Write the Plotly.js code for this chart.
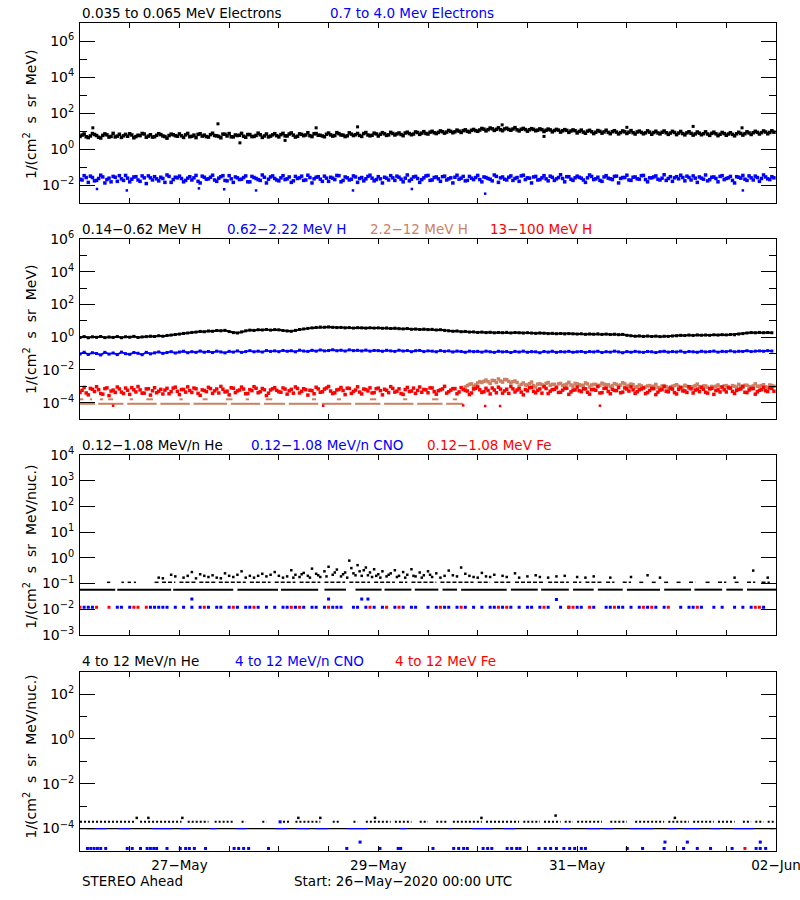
<!DOCTYPE html>
<html><head><meta charset="utf-8">
<script src="https://cdn.plot.ly/plotly-3.0.1.min.js"></script>
<style>html,body{margin:0;padding:0;background:#fff}#chart{width:800px;height:900px}</style>
</head><body><div id="chart"></div><script>
// ---------------- DATA (samples from 26-May-2020 00:00 UTC; "a" arrays on the hour, "b" arrays on the half hour) ----------------
const tickLabels = ['27-May','29-May','31-May','02-Jun'];
const tickLabelHours = [24,72,120,168];

// Panel 1: electrons
const e1a = [5.0,6.8,4.3,7.2,5.6,4.1,6.9,4.6,7.4,5.2,4.4,6.5,7.0,4.2,5.8,7.3,4.5,6.2,4.8,7.1,5.3,4.0,6.7,5.5,
6.9,4.4,7.3,5.1,4.3,7.0,5.9,4.6,7.5,5.4,4.2,6.6,7.2,4.7,5.6,7.4,4.5,6.3,5.0,7.6,4.4,6.8,5.2,7.1,
4.7,7.4,5.3,7.8,4.6,6.9,5.5,8.0,4.9,7.2,5.8,4.8,7.7,5.2,8.1,6.0,4.9,7.9,5.6,7.3,5.0,8.2,5.4,7.6,
5.3,8.1,5.7,8.4,6.0,7.8,5.5,8.6,6.2,8.9,6.5,9.2,6.8,9.6,7.2,10.1,7.6,10.7,8.0,11.2,8.3,11.6,8.8,12.2,
9.6,13.8,10.2,14.6,10.8,15.0,10.4,14.2,11.0,15.4,10.1,14.0,9.8,13.5,10.3,13.1,9.4,12.8,9.0,12.3,8.7,11.9,8.4,11.5,
7.8,11.2,7.5,10.9,7.2,10.6,7.6,11.0,7.1,10.4,6.9,10.1,7.3,10.5,6.8,9.9,7.0,10.2,6.6,9.7,6.9,10.0,6.5,9.6,
6.3,9.4,6.1,9.1,5.9,8.8,6.2,9.0,5.7,8.6,5.5,8.3,5.8,8.0,5.4,8.5,5.9,9.0,6.4,9.6,6.8,10.1,7.0,10.3];
const e1b = [5.9,4.8,5.3,6.4,4.5,5.7,6.1,5.0,4.7,6.6,5.4,5.1,6.0,4.9,5.5,6.8,5.2,4.6,5.8,6.3,4.9,5.6,6.2,5.1,
5.4,6.1,4.8,5.9,6.5,5.2,4.9,6.3,5.6,5.0,6.7,5.3,4.8,6.0,5.8,5.1,6.4,4.9,5.7,6.2,5.3,4.7,6.1,5.5,
6.3,5.4,6.8,5.9,5.1,6.5,6.0,5.5,7.0,5.8,5.3,6.6,6.1,5.6,7.1,5.9,5.4,6.7,6.2,5.7,7.2,6.0,5.8,6.9,
6.6,7.0,6.1,7.3,6.9,6.4,7.7,7.2,6.8,8.2,7.6,7.3,8.6,8.0,8.4,9.1,8.7,9.5,9.0,9.8,10.4,9.6,10.9,10.5,
11.4,12.6,11.9,13.2,12.4,11.8,13.0,12.2,12.9,11.6,12.5,12.0,11.7,12.3,11.2,11.9,11.0,11.5,10.6,11.2,10.3,10.8,10.0,10.4,
9.4,8.7,9.8,9.1,8.5,9.5,8.9,8.4,9.2,8.7,8.2,9.0,8.6,8.1,8.8,8.4,7.9,8.6,8.2,7.8,8.5,8.0,7.7,8.3,
7.7,7.2,7.9,7.4,6.9,7.6,7.1,6.8,7.4,7.0,6.6,7.2,6.8,6.5,7.0,7.3,7.1,7.8,8.0,8.4,8.1,8.8,8.3,8.6];
const e1Outliers = [[3.1,15],[33.3,25],[38.6,2.2],[49.5,3],[57,15],[67,17],[101.9,22],[112,5],[132,16],[148,18],[159.8,15]];
const e2a = [.021,.033,.014,.026,.018,.035,.013,.024,.030,.016,.022,.034,.015,.028,.019,.032,.012,.025,.029,.017,.023,.036,.014,.027,
.031,.015,.024,.019,.034,.013,.027,.022,.035,.016,.029,.018,.033,.014,.025,.021,.032,.015,.026,.020,.036,.013,.028,.023,
.017,.033,.022,.014,.030,.025,.018,.035,.013,.027,.021,.031,.016,.024,.034,.015,.028,.019,.032,.014,.026,.022,.035,.017,
.029,.013,.024,.033,.018,.027,.015,.036,.021,.030,.014,.025,.034,.019,.028,.016,.031,.022,.013,.035,.024,.017,.030,.020,
.034,.015,.026,.021,.036,.014,.028,.019,.032,.023,.016,.035,.025,.013,.030,.020,.033,.017,.027,.022,.037,.015,.029,.018,
.031,.024,.014,.036,.020,.027,.016,.033,.022,.030,.013,.026,.035,.018,.028,.021,.034,.015,.025,.032,.019,.037,.023,.016,
.029,.035,.017,.026,.032,.014,.024,.036,.020,.028,.015,.033,.023,.030,.013,.027,.034,.018,.025,.031,.016,.036,.022,.029];
const e2b = [.019,.026,.031,.017,.023,.028,.020,.015,.027,.033,.018,.024,.021,.029,.016,.025,.032,.019,.022,.027,.014,.030,.020,.025,
.023,.018,.029,.025,.016,.031,.021,.027,.019,.024,.033,.017,.022,.028,.020,.026,.015,.030,.023,.018,.027,.021,.032,.019,
.025,.020,.028,.017,.023,.031,.019,.026,.022,.029,.016,.024,.027,.020,.033,.018,.025,.021,.028,.023,.017,.030,.024,.020,
.022,.027,.019,.025,.031,.021,.024,.017,.028,.023,.020,.032,.018,.026,.022,.029,.019,.025,.027,.021,.030,.018,.024,.026,
.020,.028,.023,.017,.030,.025,.021,.027,.018,.026,.032,.020,.024,.028,.019,.025,.022,.031,.018,.026,.023,.029,.021,.025,
.027,.019,.025,.030,.022,.018,.028,.024,.020,.031,.023,.026,.019,.027,.022,.033,.020,.025,.028,.021,.024,.018,.029,.025,
.022,.026,.031,.019,.024,.028,.021,.017,.027,.023,.030,.020,.025,.018,.029,.024,.021,.032,.019,.026,.023,.028,.020,.025];
const e2Outliers = [[4.1,.006],[11.3,.005],[28.7,.0065],[34.8,.0058],[42.5,.005],[65.9,.005],[80.1,.006],[97.8,.0033],[160,.005]];

// Panel 2: protons
const h1 = [0.95,1.08,0.92,1.05,0.98,1.10,0.94,1.03,0.97,1.09,0.93,1.06,1.00,1.12,0.96,1.04,1.08,1.15,1.10,1.22,1.14,1.28,1.35,1.45,
1.55,1.70,1.80,1.95,2.05,2.25,2.15,2.40,2.30,2.55,2.45,2.60,2.20,1.90,1.80,2.10,2.45,2.70,2.60,2.85,2.75,2.95,2.70,2.90,
2.80,2.55,2.40,2.30,2.60,2.95,3.20,3.45,3.70,3.95,4.15,4.05,4.25,4.00,3.85,3.95,3.70,3.85,3.60,3.80,3.70,3.55,3.75,3.60,
3.70,3.50,3.65,3.40,3.55,3.30,3.20,3.35,3.05,3.15,2.95,3.10,2.90,3.00,2.75,2.85,2.60,2.45,2.30,2.40,2.15,2.25,2.05,2.10,
1.95,2.05,1.90,2.00,1.85,1.95,1.88,1.98,1.82,1.92,1.86,1.78,1.88,1.80,1.72,1.82,1.75,1.65,1.72,1.62,1.68,1.58,1.65,1.60,
1.55,1.62,1.50,1.58,1.52,1.60,1.48,1.55,1.45,1.52,1.42,1.48,1.30,1.22,1.15,1.20,1.12,1.18,1.10,1.16,1.08,1.14,1.12,1.18,
1.22,1.30,1.26,1.35,1.28,1.38,1.32,1.36,1.30,1.40,1.34,1.42,1.38,1.45,1.40,1.55,1.65,1.80,1.90,1.85,1.95,1.88,1.92,1.86];
const h2 = [.095,.120,.088,.112,.100,.082,.118,.092,.108,.086,.122,.098,.090,.115,.104,.085,.119,.096,.110,.125,.102,.115,.130,.108,
.124,.138,.112,.130,.118,.142,.120,.134,.115,.140,.125,.110,.136,.122,.145,.118,.132,.150,.128,.140,.124,.152,.135,.146,
.130,.155,.138,.148,.128,.160,.142,.135,.158,.140,.165,.145,.152,.170,.148,.160,.142,.168,.150,.158,.144,.162,.140,.155,
.150,.138,.158,.145,.135,.160,.142,.152,.130,.148,.155,.132,.146,.140,.128,.150,.136,.145,.125,.142,.134,.120,.140,.130,
.136,.122,.140,.128,.118,.138,.126,.132,.115,.135,.124,.140,.120,.130,.128,.112,.134,.122,.138,.118,.130,.125,.136,.120,
.128,.134,.118,.132,.125,.138,.115,.130,.122,.140,.126,.112,.132,.120,.136,.124,.118,.134,.128,.115,.130,.138,.122,.132,
.125,.140,.118,.134,.128,.120,.138,.126,.132,.142,.122,.136,.130,.145,.128,.138,.134,.148,.132,.140,.145,.138,.150,.142];
// 2.2-12 MeV H: quantized levels until hour 93, then a continuous band (hours 93..167)
const h3LowSegs = [[0,3.6],[4.4,10.5],[11.4,18.5],[19.4,26.5],[27.4,35.5],[36.4,43.5],[44.4,49.5],[50.4,57.5],[58.4,65.5],[66.4,72.5],[73.4,80.5],[81.4,87.5],[88.4,92.5]];
const h3HighSegs = [[0,0.8],[2.4,2.9],[4.8,5.6],[6.8,8],[12,12.8],[16,17.6],[24,24.8],[29.6,30.8],[35.2,36.8],[40,40.8],[44.8,46.4],[56,57],[62,63],[70,71.5],[78,79],[85,86.5],[90,91]];
const h3LateA = [9e-4,1.3e-3,1.0e-3,1.6e-3,
1.7e-3,2.4e-3,1.5e-3,2.2e-3,2.8e-3,1.8e-3,2.5e-3,1.6e-3,2.1e-3,
1.0e-3,1.6e-3,1.2e-3,1.8e-3,0.9e-3,1.4e-3,1.1e-3,1.7e-3,1.3e-3,0.95e-3,1.5e-3,1.2e-3,1.75e-3,1.0e-3,1.4e-3,1.15e-3,1.6e-3,0.9e-3,1.3e-3,1.05e-3,1.55e-3,1.2e-3,0.95e-3,1.45e-3,1.1e-3,1.65e-3,1.0e-3,1.35e-3,
8.5e-4,1.2e-3,7.5e-4,1.05e-3,9.5e-4,1.3e-3,8e-4,1.1e-3,7e-4,1.0e-3,1.25e-3,8.5e-4,1.15e-3,7.5e-4,9.5e-4,1.35e-3,8e-4,1.05e-3,7e-4,9e-4,1.2e-3,8.5e-4,1.1e-3,7.5e-4,1.0e-3,1.3e-3,8.5e-4,1.15e-3,9e-4,1.4e-3,1.0e-3,1.25e-3,8.5e-4,1.1e-3];
const h3LateB = [1.1e-3,1.4e-3,1.2e-3,1.9e-3,
2.0e-3,1.9e-3,2.3e-3,1.7e-3,2.1e-3,2.6e-3,2.0e-3,1.9e-3,1.7e-3,
1.3e-3,1.2e-3,1.45e-3,1.1e-3,1.35e-3,1.25e-3,1.5e-3,1.15e-3,1.3e-3,1.4e-3,1.1e-3,1.35e-3,1.2e-3,1.5e-3,1.25e-3,1.1e-3,1.4e-3,1.2e-3,1.3e-3,1.15e-3,1.35e-3,1.25e-3,1.1e-3,1.3e-3,1.2e-3,1.4e-3,1.15e-3,1.25e-3,
9.5e-4,1.05e-3,9e-4,1.1e-3,1.0e-3,8.5e-4,1.05e-3,9.5e-4,9e-4,1.1e-3,1.0e-3,8.8e-4,1.0e-3,9.2e-4,1.1e-3,9.5e-4,1.05e-3,8.8e-4,9.8e-4,1.0e-3,9.2e-4,1.05e-3,9.5e-4,1.1e-3,8.8e-4,1.0e-3,1.15e-3,9.5e-4,1.05e-3,1.0e-3,1.1e-3,9.2e-4,1.2e-3,1.0e-3];
const h3LateStart = 93;
const h3LowLevel = 8.5e-5, h3HighLevel = 1.6e-4;
const h4a = [4.1e-4,8.5e-4,3.0e-4,6.6e-4,9.4e-4,3.6e-4,7.2e-4,2.7e-4,5.8e-4,9.0e-4,4.4e-4,7.8e-4,3.2e-4,6.1e-4,9.6e-4,3.8e-4,6.9e-4,2.9e-4,8.2e-4,5.0e-4,3.4e-4,7.5e-4,4.7e-4,8.8e-4,
3.1e-4,6.4e-4,9.2e-4,4.2e-4,7.0e-4,2.8e-4,5.5e-4,8.6e-4,3.7e-4,6.8e-4,9.8e-4,4.5e-4,3.0e-4,7.6e-4,5.2e-4,8.9e-4,3.5e-4,6.2e-4,9.4e-4,4.0e-4,7.3e-4,2.7e-4,5.9e-4,8.1e-4,
4.6e-4,7.9e-4,3.3e-4,6.5e-4,9.1e-4,3.9e-4,7.1e-4,2.9e-4,5.4e-4,8.7e-4,4.3e-4,6.7e-4,9.7e-4,3.6e-4,6.0e-4,8.4e-4,3.1e-4,7.4e-4,4.8e-4,9.3e-4,3.4e-4,6.3e-4,8.0e-4,4.1e-4,
7.7e-4,3.0e-4,5.7e-4,9.5e-4,4.4e-4,7.0e-4,3.2e-4,8.5e-4,5.1e-4,3.7e-4,9.0e-4,6.4e-4,4.0e-4,7.8e-4,3.3e-4,6.0e-4,9.9e-4,4.6e-4,7.2e-4,3.5e-4,8.3e-4,5.5e-4,3.1e-4,6.8e-4,
9.2e-4,4.2e-4,7.5e-4,3.4e-4,5.9e-4,8.8e-4,3.8e-4,6.6e-4,9.6e-4,4.5e-4,7.1e-4,3.0e-4,5.3e-4,8.6e-4,4.0e-4,6.9e-4,9.4e-4,3.6e-4,6.2e-4,8.1e-4,4.3e-4,7.4e-4,3.2e-4,5.8e-4,
8.9e-4,4.7e-4,7.0e-4,3.3e-4,6.5e-4,9.7e-4,4.1e-4,7.6e-4,3.5e-4,5.6e-4,8.4e-4,4.4e-4,6.8e-4,9.1e-4,3.7e-4,6.1e-4,8.0e-4,4.2e-4,7.3e-4,3.1e-4,5.9e-4,9.5e-4,4.6e-4,6.7e-4,
3.4e-4,8.2e-4,5.2e-4,9.3e-4,3.9e-4,6.6e-4,8.7e-4,4.3e-4,7.0e-4,3.2e-4,6.0e-4,9.0e-4,4.5e-4,7.7e-4,3.6e-4,6.4e-4,9.8e-4,4.1e-4,7.2e-4,3.3e-4,5.7e-4,8.5e-4,4.8e-4,7.4e-4];
const h4b = [5.6e-4,3.9e-4,7.4e-4,4.8e-4,6.2e-4,3.3e-4,8.0e-4,5.1e-4,4.2e-4,6.9e-4,3.6e-4,5.7e-4,8.3e-4,4.5e-4,6.0e-4,3.8e-4,7.1e-4,5.3e-4,4.0e-4,6.5e-4,5.8e-4,3.5e-4,7.7e-4,4.9e-4,
6.3e-4,4.4e-4,5.5e-4,7.8e-4,3.7e-4,6.0e-4,4.7e-4,7.2e-4,5.2e-4,3.9e-4,6.6e-4,5.0e-4,8.1e-4,4.1e-4,5.9e-4,6.8e-4,3.6e-4,5.4e-4,7.5e-4,4.6e-4,6.1e-4,3.8e-4,7.0e-4,5.6e-4,
4.3e-4,6.7e-4,5.3e-4,3.8e-4,7.3e-4,4.9e-4,6.2e-4,5.7e-4,3.5e-4,6.9e-4,4.6e-4,7.9e-4,5.1e-4,4.0e-4,6.4e-4,5.5e-4,7.6e-4,3.7e-4,5.9e-4,4.4e-4,6.8e-4,5.2e-4,3.9e-4,7.1e-4,
5.4e-4,6.6e-4,4.1e-4,7.4e-4,5.0e-4,3.6e-4,6.3e-4,4.8e-4,7.7e-4,5.6e-4,4.3e-4,6.1e-4,8.0e-4,4.7e-4,5.3e-4,6.9e-4,3.8e-4,5.8e-4,7.2e-4,4.5e-4,6.4e-4,5.1e-4,3.9e-4,7.5e-4,
6.1e-4,4.6e-4,5.5e-4,7.8e-4,4.0e-4,6.7e-4,5.2e-4,3.7e-4,7.0e-4,5.9e-4,4.4e-4,6.3e-4,8.2e-4,4.9e-4,5.6e-4,3.8e-4,7.3e-4,5.0e-4,6.5e-4,4.2e-4,5.8e-4,7.6e-4,4.5e-4,6.0e-4,
5.3e-4,7.1e-4,4.3e-4,6.2e-4,5.7e-4,3.9e-4,7.4e-4,4.8e-4,6.6e-4,5.4e-4,4.0e-4,7.9e-4,5.1e-4,6.0e-4,4.6e-4,6.8e-4,3.6e-4,5.5e-4,7.2e-4,4.4e-4,6.3e-4,5.0e-4,7.7e-4,4.1e-4,
6.4e-4,5.2e-4,4.2e-4,7.0e-4,5.8e-4,4.7e-4,6.6e-4,3.8e-4,7.5e-4,5.4e-4,4.5e-4,6.1e-4,8.0e-4,4.9e-4,5.6e-4,6.9e-4,4.3e-4,5.9e-4,7.3e-4,4.6e-4,6.2e-4,5.3e-4,7.8e-4,5.0e-4];
const h4Outliers = [[8,6.5e-5],[58.7,6.5e-5],[92.5,6.8e-5],[97.8,6.2e-5],[101.4,6.2e-5],[125.5,6.5e-5]];

// Panel 3: 0.12-1.08 MeV/n heavy ions
const heLevel1 = 0.058, heLevel2 = 0.112, cno3Level = 0.012;
const he3Segs1 = [[0,8.5],[9,22],[22.5,37],[38,47.8],[48.5,57.5],[59,64.2],[66.5,72.8],[73.5,80],[80.8,86.5],[87.5,91],[92,103],[104,110.5],[111.3,118],[119,124],[125,131],[132,140],[141,147.5],[148.3,155],[156,160],[161,168]];
const he3Segs2 = [[6.5,7.3],[10,10.6],[11.5,12.3],[13,13.5],[18,19],[19.8,23],[24,28],[28.8,33],[33.5,40],[41,46],[47,52],[53,58],[59,64],[65,70],[71,76],[77,79],[80,86],[87,95],[96,99],[100,104],[105,112],[113,118],[119,121],[122,126],[127,129],[131,133],[135,136],[138,139],[141,142],[144,145],[147,148.5],[151,152],[154,156],[158,159],[161,163],[164.5,166.5]];
const he3Up = [[19,.17],[20,.16],[22,.22],[23,.19],[25,.17],[26,.2],[27,.28],[28,.16],[29,.23],[30,.2],[31,.18],[32,.21],[33,.17],[34,.16],[35,.25],[36,.2],[37,.18],[38,.22],[39,.3],[40,.17],[41,.2],[42,.17],[43,.2],[44,.24],[45,.19],[46,.22],[47,.28],[48,.2],[49,.17],[50,.19],[51,.33],[51.5,.17],[52,.22],[53,.18],[53.5,.23],[54,.26],[55,.2],[55.5,.17],[56,.38],[57,.24],[57.5,.21],[58,.18],[59,.3],[59.5,.19],[60,.45],[61,.22],[61.5,.27],[62,.35],[63,.19],[63.5,.23],[64,.27],[64.5,.17],[65,.78],[65.5,.4],[66,.25],[66.5,.21],[67,.52],[67.5,.3],[68,.2],[68.5,.33],[69,.42],[69.5,.21],[70,.27],[70.5,.18],[71,.36],[71.5,.2],[72,.23],[72.5,.17],[73,.3],[74,.19],[74.5,.22],[75,.25],[76,.33],[76.5,.18],[77,.2],[78,.28],[78.5,.17],[79,.22],[80,.36],[80.5,.2],[81,.19],[82,.27],[82.5,.17],[83,.21],[84,.3],[84.5,.22],[85,.18],[86,.25],[87,.17],[88,.2],[89,.32],[90,.21],[91,.19],[92,.42],[93,.24],[94,.2],[95,.18],[96,.17],[97,.26],[98,.19],[99,.18],[100,.22],[102,.2],[103,.18],[105,.25],[106,.17],[108,.19],[110,.21],[111,.18],[113,.17],[115,.19],[117,.2],[120,.18],[122,.17],[124,.19],[128,.17],[133,.18],[137,.21],[140,.17],[158,.17],[162.5,.32],[166,.17]];
const cno3Hours = [1,2,3,9,10,12,17,18,19,20,21,23,25,27,29,31,33,34,36,38,40,41,43,45,47,49,50,52,54,56,57,59,61,62,63,66,67,69,71,73,76,78,80,81,84,86,88,89,91,93,95,97,99,100,102,104,106,108,109,111,113,116,118,120,121,124,127,128,130,131,133,135,137,139,141,145,147,148,150,153,155,158,160,162,165];
const cno3Up = [[27,.025],[60,.025],[68,.025],[69.5,.025],[115,.024]];
const fe3Hours = [0,4,7,13,14,16,30,37,42,51,53,60,70,74,77,87,92,101,103,112,118,119,123,129,136,138,142,149,163,164];

// Panel 4: 4-12 MeV/n heavy ions
const he4Level1 = 1e-4, he4Level2 = 2e-4, cno4Low = 1.3e-5;
const he4Segs1 = [[0,168]];
const he4Segs2 = [[0,13.5],[14.5,24.5],[26,31],[32.5,37],[39,40],[44,45],[49,50.5],[52,58],[61,62.5],[66,67],[69,75],[76,80],[82,84],[86,88.5],[90,97],[98,106],[107,111],[112,116],[117,119],[120,126],[128,132],[134,141],[142,147],[148,153],[154,158],[160,162],[163,165],[166,167.5]];
const he4Up = [[13.7,3e-4],[16.5,3e-4],[24.7,3e-4],[52.7,3e-4],[58,3e-4],[71.2,3e-4],[96.9,3e-4],[114.8,3.8e-4],[143.6,3e-4]];
const cno4Segs = [[1.6,6.4],[9.3,12.1],[17.5,22.1],[24.1,26.6],[31.4,33],[37.8,40.2],[47.1,49.9],[52.3,55.5],[56.8,60],[64.4,69.3],[77.2,78.8],[89,89.6],[94.6,99.4],[102.2,105],[116,118.3],[122.3,125.6],[126.4,128.8],[132.8,138.5],[141.7,144.1],[145.7,149.7],[152.2,154.6],[157.8,162.6],[166.7,167.5]];
const cno4LowHours = [1.8,2.6,3.4,4.2,5.0,6.2,11.4,12.6,14.6,16.2,17.0,17.8,18.5,21,24.2,25.5,26.4,27.6,30.3,37.2,38.3,39.5,40.7,45.5,64.4,72.4,76.8,77.4,85.2,90.2,91.4,92.6,93.5,97.3,98.4,99.4,103.1,104.2,105.4,106.2,110.8,112.3,113.6,115,116.8,118.2,119.4,121,122,132.1,135.8,141,145.7,149,152.2,157.4,163.2,164.2,165.5];
const cno4Mid = [[48.3,2e-4],[67.6,2.5e-5],[141.2,2.5e-5],[146.6,2.5e-5],[164.2,2.5e-5]];
const fe4Low = [[160.5,1.3e-5]];

// ---------------- HELPERS ----------------
const T0 = Date.UTC(2020,4,26,0,0,0);
function hd(h){ return new Date(T0 + h*3600000).toISOString().slice(0,19).replace('T',' '); }
function seriesX(arr, start){ return arr.map((_,i)=>hd((start||0)+i)); }
function segXY(segs, level){ const x=[],y=[]; segs.forEach(s=>{x.push(hd(s[0]),hd(s[1]),null); y.push(level,level,null);}); return {x,y}; }
function pairXY(p){ return {x:p.map(q=>hd(q[0])), y:p.map(q=>q[1])}; }
function levelXY(hours, level){ return {x:hours.map(hd), y:hours.map(()=>level)}; }

const BLACK='#000000', BLUE='#0000ff', RED='#ff0000', BROWN='#cd7f62';
const traces=[];
function band(x,y,color,ax,ms,lw){ traces.push({x,y,type:'scatter',mode:'lines+markers',line:{color,width:lw||1.5},marker:{color,size:ms||3,symbol:'square'},xaxis:ax[0],yaxis:ax[1],hoverinfo:'skip'}); }
function dots(x,y,color,ax,ms){ traces.push({x,y,type:'scatter',mode:'markers',marker:{color,size:ms||3,symbol:'square'},xaxis:ax[0],yaxis:ax[1],hoverinfo:'skip'}); }
function segs(o,color,ax,w,dash){ traces.push({x:o.x,y:o.y,type:'scatter',mode:'lines',connectgaps:false,line:{color,width:w||2,dash:dash||'solid'},xaxis:ax[0],yaxis:ax[1],hoverinfo:'skip'}); }

const A1=['x','y'],A2=['x2','y2'],A3=['x3','y3'],A4=['x4','y4'];
// panel 1
dots(seriesX(e1a),e1a,BLACK,A1,3.5);
dots(seriesX(e1b,0.5),e1b,BLACK,A1,3.5);
let p=pairXY(e1Outliers); dots(p.x,p.y,BLACK,A1,3);
dots(seriesX(e2a),e2a,BLUE,A1,3.5);
dots(seriesX(e2b,0.5),e2b,BLUE,A1,3.5);
p=pairXY(e2Outliers); dots(p.x,p.y,BLUE,A1,2.5);
// panel 2
band(seriesX(h1),h1,BLACK,A2,3,2);
band(seriesX(h2),h2,BLUE,A2,3,1.8);
segs(segXY(h3LowSegs,h3LowLevel),BROWN,A2,2);
segs(segXY(h3HighSegs,h3HighLevel),BROWN,A2,2);
dots(seriesX(h3LateA,h3LateStart),h3LateA,BROWN,A2,3.5);
dots(seriesX(h3LateB,h3LateStart+0.5),h3LateB,BROWN,A2,3.5);
dots(seriesX(h4a),h4a,RED,A2,3.5);
dots(seriesX(h4b,0.5),h4b,RED,A2,3.5);
p=pairXY(h4Outliers); dots(p.x,p.y,RED,A2,2.5);
// panel 3
segs(segXY(he3Segs1,heLevel1),BLACK,A3,2);
segs(segXY(he3Segs2,heLevel2),BLACK,A3,1.5,'4px,2px');
p=pairXY(he3Up); dots(p.x,p.y,BLACK,A3,2.5);
p=levelXY(cno3Hours,cno3Level); dots(p.x,p.y,BLUE,A3,3);
p=pairXY(cno3Up); dots(p.x,p.y,BLUE,A3,3);
p=levelXY(fe3Hours,cno3Level); dots(p.x,p.y,RED,A3,3);
// panel 4
segs(segXY(he4Segs1,he4Level1),BLACK,A4,1.2);
segs(segXY(cno4Segs,he4Level1),BLUE,A4,1.2);
segs(segXY(he4Segs2,he4Level2),BLACK,A4,2,'2px,2px');
p=pairXY(he4Up); dots(p.x,p.y,BLACK,A4,2.5);
p=levelXY(cno4LowHours,cno4Low); dots(p.x,p.y,BLUE,A4,3);
p=pairXY(cno4Mid); dots(p.x,p.y,BLUE,A4,3);
p=pairXY(fe4Low); dots(p.x,p.y,RED,A4,3);

// ---------------- LAYOUT ----------------
const FONT='DejaVu Sans';
const majorX=[], majorXText=[], minorX=[];
for(let h=0; h<=168; h+=12){ const k=tickLabelHours.indexOf(h); if(k>=0){ majorX.push(hd(h)); majorXText.push(tickLabels[k].replace('-','\u2212')); } else minorX.push(hd(h)); }
function xax(anchor, showLabels){
  return {type:'date', domain:[0.1,0.97], anchor, range:[hd(0),hd(168)], tickmode:'array', tickvals:majorX,
    ticktext: majorXText, showticklabels:showLabels, ticks:'inside', ticklen:5, tickwidth:1, tickcolor:'#000',
    minor:{tickmode:'array', tickvals:minorX, ticks:'inside', ticklen:5, tickwidth:1, tickcolor:'#000', showgrid:false},
    showline:true, linecolor:'#000', linewidth:1, mirror:'allticks', showgrid:false, zeroline:false,
    ticklabeloverflow:'allow', tickfont:{family:FONT,size:13.5,color:'#000'}, ticklabelstandoff:2};
}
function sup(e){ return '10<sup>'+String(e).replace('-','\u2212')+'</sup>'; }
function yax(domain, range, major, minor, anchor){
  const y = {type:'log', domain, anchor, range, tickmode:'array', tickvals:major.map(e=>Math.pow(10,e)), ticktext:major.map(sup),
    ticks:'inside', ticklen:15, tickwidth:1, tickcolor:'#000',
    showline:true, linecolor:'#000', linewidth:1, mirror:'allticks', showgrid:false, zeroline:false,
    tickfont:{family:FONT,size:14,color:'#000'}, ticklabelstandoff:2};
  if(minor.length) y.minor = {tickmode:'array', tickvals:minor.map(e=>Math.pow(10,e)), ticks:'inside', ticklen:7, tickwidth:1, tickcolor:'#000', showgrid:false};
  return y;
}
const H=900;
function py(px){ return 1-px/H; }

const titles = [
  {y:13, items:[['0.035 to 0.065 MeV Electrons',BLACK,80],['0.7 to 4.0 Mev Electrons',BLUE,328]]},
  {y:229, items:[['0.14-0.62 MeV H',BLACK,80],['0.62-2.22 MeV H',BLUE,225],['2.2-12 MeV H',BROWN,368],['13-100 MeV H',RED,488]]},
  {y:445, items:[['0.12-1.08 MeV/n He',BLACK,80],['0.12-1.08 MeV/n CNO',BLUE,249],['0.12-1.08 MeV Fe',RED,425]]},
  {y:661, items:[['4 to 12 MeV/n He',BLACK,80],['4 to 12 MeV/n CNO',BLUE,233],['4 to 12 MeV Fe',RED,393]]}
];
const annotations=[];
titles.forEach(t=>t.items.forEach(it=>annotations.push({xref:'paper',yref:'paper',x:it[2]/800,y:py(t.y),xanchor:'left',yanchor:'middle',
  text:it[0].replace(/-/g,'\u2212'),showarrow:false,font:{family:FONT,size:13.5,color:it[1]}})));
const ytitles=[[115,'1/(cm<sup>2</sup>  s  sr  MeV)'],[330,'1/(cm<sup>2</sup>  s  sr  MeV)'],[546.7,'1/(cm<sup>2</sup>  s  sr  MeV/nuc.)'],[756.5,'1/(cm<sup>2</sup>  s  sr  MeV/nuc.)']];
ytitles.forEach(t=>annotations.push({xref:'paper',yref:'paper',x:30/800,y:py(t[0]),xanchor:'center',yanchor:'middle',textangle:-90,
  text:t[1],showarrow:false,font:{family:FONT,size:14,color:'#000'}}));
annotations.push({xref:'paper',yref:'paper',x:80/800,y:py(881),xanchor:'left',yanchor:'middle',text:'STEREO Ahead',showarrow:false,font:{family:FONT,size:13.5,color:'#000'}});
annotations.push({xref:'paper',yref:'paper',x:292/800,y:py(881),xanchor:'left',yanchor:'middle',text:'Start: 26\u2212May\u22122020 00:00 UTC',showarrow:false,font:{family:FONT,size:13.5,color:'#000'}});

const layout = {
  width:800, height:900, margin:{l:0,r:0,t:0,b:0}, paper_bgcolor:'#fff', plot_bgcolor:'#fff', showlegend:false,
  font:{family:FONT,color:'#000'},
  xaxis:xax('y',false), xaxis2:xax('y2',false), xaxis3:xax('y3',false), xaxis4:xax('y4',true),
  yaxis: yax([py(203),py(23)],[-3,7],[-2,0,2,4,6],[-1,1,3,5],'x'),
  yaxis2:yax([py(419),py(239)],[-5,6],[-4,-2,0,2,4,6],[-3,-1,1,3,5],'x2'),
  yaxis3:yax([py(635),py(455)],[-3,4],[-3,-2,-1,0,1,2,3,4],[],'x3'),
  yaxis4:yax([py(851),py(671.7)],[-5,3],[-4,-2,0,2],[-3,-1,1],'x4'),
  annotations
};
Plotly.newPlot('chart', traces, layout, {staticPlot:true, displayModeBar:false});
</script></body></html>
